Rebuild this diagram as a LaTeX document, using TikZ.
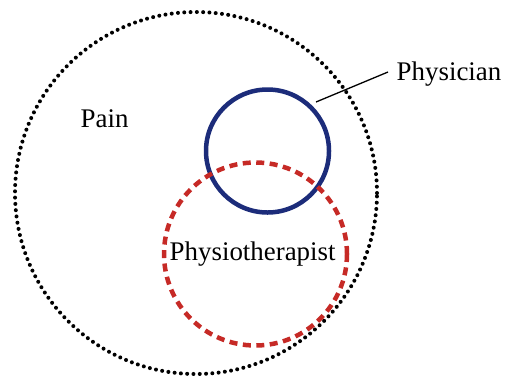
\documentclass[tikz,border=0pt]{standalone}
\usepackage{fontspec}
\setmainfont{Liberation Serif}
\definecolor{physblue}{RGB}{28,44,122}
\definecolor{physred}{RGB}{198,42,38}
\begin{document}
\begin{tikzpicture}[x=1bp,y=-1bp,
  lbl/.style={font=\fontsize{27}{31}\selectfont, inner sep=0pt, anchor=base west},
  painset/.style={draw=black, line width=4bp, line cap=round, dash pattern=on 0bp off 6.3bp},
  physset/.style={draw=physblue, line width=4.5bp},
  theraset/.style={draw=physred, line width=4.5bp, dash pattern=on 8bp off 5.5bp}]
\useasboundingbox (0,0) rectangle (505,377);
\draw[painset] (196,193) circle[radius=181bp];
\draw[physset] (267.5,151) circle[radius=61.5bp];
\draw[theraset] (255.5,254) circle[radius=91.5bp];
\node[lbl] (pain) at (80.5,127) {Pain};
\node[lbl] (physician) at (396.5,80) {Physician};
\node[lbl] (thera) at (169.5,260) {Physiotherapist};
\coordinate (tip) at (316,102);
\coordinate (lead) at (388,72);
\draw[line width=1.3bp] (tip) -- (lead);
\end{tikzpicture}
\end{document}
